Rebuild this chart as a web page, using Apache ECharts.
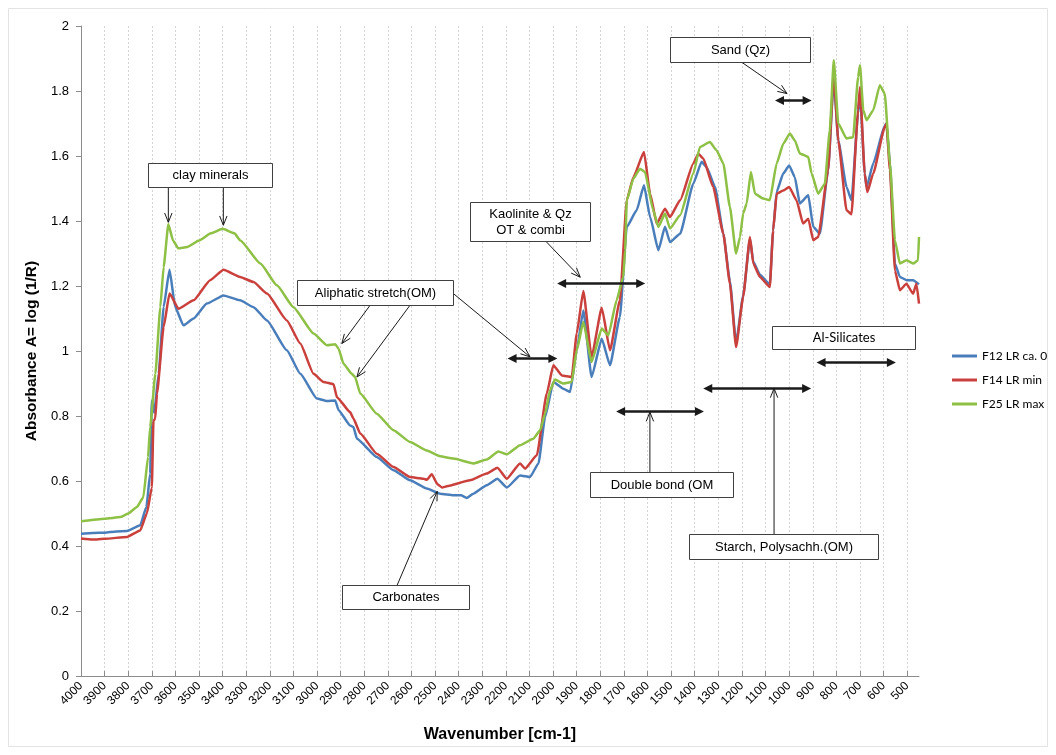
<!DOCTYPE html>
<html>
<head>
<meta charset="utf-8">
<title>FTIR absorbance spectra</title>
<script src="https://cdn.jsdelivr.net/npm/echarts@6/dist/echarts.min.js"></script>
<style>
  html, body { margin: 0; padding: 0; background: #ffffff; }
  #chart { width: 1056px; height: 755px; }
</style>
</head>
<body>
<div id="chart"></div>
<script>
// Wavenumber ticks [cm-1]
const wavenumberTicks = [4000, 3900, 3800, 3700, 3600, 3500, 3400, 3300, 3200, 3100, 3000,
  2900, 2800, 2700, 2600, 2500, 2400, 2300, 2200, 2100, 2000, 1900, 1800, 1700, 1600,
  1500, 1400, 1300, 1200, 1100, 1000, 900, 800, 700, 600, 500];

const seriesNames = ['F12 LR ca. 0', 'F14 LR min', 'F25 LR max'];

// [wavenumber, absorbance A = log(1/R)]
const f12Spectrum = [
  [4000, 0.438], [3950, 0.44], [3900, 0.441], [3850, 0.445], [3805, 0.446], [3749, 0.464],
  [3723, 0.52], [3707, 0.623], [3700, 0.848], [3690, 0.81], [3671, 0.93], [3650, 1.135],
  [3625, 1.25], [3601, 1.135], [3566, 1.079], [3523, 1.10], [3467, 1.146], [3396, 1.171],
  [3326, 1.156], [3269, 1.135], [3212, 1.094], [3128, 1.002], [3071, 0.93], [3001, 0.854],
  [2958, 0.846], [2923, 0.848], [2909, 0.818], [2860, 0.771], [2846, 0.766], [2831, 0.73],
  [2747, 0.674], [2676, 0.633], [2606, 0.602], [2535, 0.577], [2479, 0.561], [2422, 0.556],
  [2390, 0.556], [2366, 0.548], [2340, 0.56], [2281, 0.587], [2236, 0.607], [2196, 0.58],
  [2140, 0.617], [2098, 0.612], [2062, 0.654], [2034, 0.797], [1999, 0.905], [1957, 0.884],
  [1928, 0.874], [1900, 1.002], [1872, 1.125], [1837, 0.92], [1794, 1.038], [1759, 0.956],
  [1717, 1.105], [1688, 1.382], [1646, 1.433], [1615, 1.51], [1589, 1.412], [1554, 1.31],
  [1526, 1.382], [1505, 1.335], [1462, 1.361], [1406, 1.515], [1371, 1.582], [1350, 1.566],
  [1314, 1.505], [1279, 1.361], [1251, 1.215], [1225, 1.025], [1195, 1.17], [1166, 1.345],
  [1152, 1.275], [1124, 1.235], [1082, 1.205], [1068, 1.37], [1053, 1.49], [1025, 1.546],
  [1000, 1.571], [976, 1.535], [955, 1.454], [919, 1.479], [898, 1.382], [870, 1.361],
  [835, 1.556], [811, 1.835], [792, 1.648], [757, 1.505], [736, 1.464], [708, 1.731],
  [700, 1.792], [680, 1.546], [672, 1.505], [644, 1.577], [595, 1.694], [588, 1.70],
  [573, 1.577], [552, 1.269], [531, 1.228], [503, 1.218], [475, 1.218], [450, 1.205]
];

const f14Spectrum = [
  [4000, 0.423], [3950, 0.42], [3900, 0.422], [3805, 0.428], [3749, 0.448], [3721, 0.50],
  [3700, 0.58], [3693, 0.787], [3686, 0.79], [3678, 0.869], [3650, 1.074], [3625, 1.177],
  [3587, 1.13], [3523, 1.156], [3453, 1.218], [3396, 1.25], [3326, 1.228], [3269, 1.212],
  [3212, 1.177], [3128, 1.094], [3071, 1.023], [3015, 0.93], [2973, 0.905], [2930, 0.898],
  [2916, 0.858], [2860, 0.812], [2846, 0.792], [2817, 0.746], [2747, 0.684], [2676, 0.643],
  [2606, 0.612], [2549, 0.607], [2535, 0.604], [2514, 0.621], [2490, 0.59], [2470, 0.58],
  [2450, 0.584], [2352, 0.602], [2281, 0.623], [2236, 0.641], [2196, 0.607], [2140, 0.654],
  [2119, 0.638], [2069, 0.679], [2027, 0.869], [1999, 0.956], [1963, 0.925], [1921, 0.92],
  [1900, 1.054], [1872, 1.185], [1837, 0.982], [1794, 1.133], [1759, 1.002], [1717, 1.156],
  [1688, 1.464], [1660, 1.535], [1615, 1.612], [1589, 1.484], [1561, 1.392], [1526, 1.438],
  [1505, 1.412], [1462, 1.464], [1406, 1.577], [1385, 1.607], [1364, 1.592], [1322, 1.505],
  [1279, 1.361], [1251, 1.207], [1225, 1.012], [1195, 1.166], [1166, 1.351], [1152, 1.269],
  [1124, 1.228], [1082, 1.197], [1068, 1.371], [1053, 1.484], [1025, 1.494], [1000, 1.505],
  [969, 1.464], [941, 1.392], [919, 1.407], [898, 1.341], [877, 1.351], [835, 1.556],
  [811, 1.853], [792, 1.648], [757, 1.433], [736, 1.421], [708, 1.741], [700, 1.812],
  [680, 1.546], [669, 1.489], [644, 1.546], [595, 1.689], [588, 1.70], [573, 1.556],
  [552, 1.248], [531, 1.187], [503, 1.207], [475, 1.176], [461, 1.207], [450, 1.146]
];

const f25Spectrum = [
  [4000, 0.476], [3900, 0.484], [3833, 0.489], [3800, 0.50], [3763, 0.52], [3736, 0.55],
  [3716, 0.674], [3707, 0.766], [3685, 0.93], [3664, 1.135], [3650, 1.258], [3630, 1.39],
  [3610, 1.34], [3588, 1.316], [3550, 1.32], [3500, 1.34], [3450, 1.362], [3400, 1.376],
  [3350, 1.362], [3325, 1.34], [3240, 1.269], [3170, 1.202], [3100, 1.135], [3015, 1.054],
  [2958, 1.018], [2923, 1.021], [2909, 1.007], [2888, 0.961], [2853, 0.93], [2839, 0.92],
  [2817, 0.869], [2747, 0.807], [2676, 0.756], [2606, 0.72], [2535, 0.694], [2479, 0.676],
  [2422, 0.669], [2338, 0.654], [2281, 0.666], [2232, 0.691], [2196, 0.682], [2140, 0.71],
  [2084, 0.73], [2055, 0.756], [2034, 0.807], [2013, 0.879], [1992, 0.912], [1957, 0.90],
  [1921, 0.905], [1900, 1.002], [1872, 1.089], [1837, 0.966], [1794, 1.069], [1766, 1.048],
  [1731, 1.156], [1703, 1.228], [1695, 1.31], [1688, 1.464], [1660, 1.53], [1632, 1.561],
  [1611, 1.551], [1576, 1.433], [1554, 1.382], [1526, 1.423], [1505, 1.377], [1462, 1.418],
  [1406, 1.546], [1378, 1.628], [1336, 1.643], [1308, 1.618], [1279, 1.577], [1251, 1.443],
  [1225, 1.30], [1208, 1.351], [1195, 1.423], [1180, 1.454], [1162, 1.551], [1145, 1.484],
  [1110, 1.469], [1082, 1.464], [1053, 1.577], [1025, 1.638], [997, 1.669], [976, 1.648],
  [955, 1.608], [919, 1.597], [905, 1.546], [877, 1.484], [849, 1.515], [828, 1.679],
  [811, 1.895], [792, 1.70], [757, 1.654], [729, 1.658], [708, 1.843], [700, 1.879],
  [686, 1.741], [672, 1.71], [644, 1.741], [616, 1.818], [595, 1.792], [573, 1.577],
  [552, 1.341], [531, 1.269], [503, 1.279], [475, 1.269], [454, 1.279], [450, 1.351]
];

const seriesColors = ['#4a7ebb', '#c9403c', '#8dc044'];

// Band assignments: labelled boxes, thin pointers and range arrows (data coordinates)
const noteBoxes = [
  { text: 'clay minerals', at: [3452, 1.543], size: [124, 24] },
  { text: 'Sand (Qz)', at: [1208, 1.927], size: [140, 25] },
  { text: 'Kaolinite & Qz\nOT & combi', at: [2097, 1.40], size: [120, 39] },
  { text: 'Aliphatic stretch(OM)', at: [2754, 1.179], size: [156, 25] },
  { text: 'Double bond (OM', at: [1541, 0.588], size: [143, 25] },
  { text: 'Starch, Polysachh.(OM)', at: [1024, 0.398], size: [189, 25] },
  { text: 'Al-Silicates', at: [771, 1.043], size: [143, 23], font: 'Lato' },
  { text: 'Carbonates', at: [2625, 0.242], size: [127, 24] }
];

const notePointers = [
  [[3630, 1.507], [3630, 1.396]],
  [[3397, 1.507], [3397, 1.387]],
  [[1200, 1.888], [1009, 1.792]],
  [[2034, 1.34], [1885, 1.227]],
  [[2775, 1.141], [2895, 1.023]],
  [[2606, 1.141], [2831, 0.92]],
  [[2423, 1.177], [2098, 0.982]],
  [[1590, 0.627], [1590, 0.812]],
  [[1064, 0.436], [1064, 0.885]],
  [[2661, 0.279], [2491, 0.568]]
];

const noteRanges = [
  { from: 1060, to: 905, level: 1.771 },
  { from: 1983, to: 1610, level: 1.208 },
  { from: 2193, to: 1982, level: 0.98 },
  { from: 1733, to: 1361, level: 0.815 },
  { from: 1364, to: 907, level: 0.885 },
  { from: 884, to: 548, level: 0.966 }
];

const chart = echarts.init(document.getElementById('chart'), null, { renderer: 'canvas' });

const baseFont = '"Liberation Sans", Arial, sans-serif';

const option = {
  backgroundColor: '#ffffff',
  animation: false,
  grid: { left: 81, right: 137, top: 26, bottom: 79, containLabel: false, outerBoundsMode: 'none' },
  legend: {
    orient: 'vertical',
    left: 952,
    top: 348,
    padding: 0,
    itemGap: 8,
    itemWidth: 25,
    itemHeight: 3,
    icon: 'rect',
    data: seriesNames,
    textStyle: { fontFamily: 'Lato, sans-serif', fontSize: 12, color: '#000', lineHeight: 16, padding: [0, 0, 0, 0] }
  },
  xAxis: {
    type: 'value',
    inverse: true,
    min: 450,
    max: 4000,
    name: 'Wavenumber [cm-1]',
    nameLocation: 'middle',
    nameGap: 51,
    nameTextStyle: { fontFamily: baseFont, fontSize: 16, fontWeight: 'bold', color: '#000' },
    axisLine: { show: true, onZero: false, lineStyle: { color: '#8c8c8c', width: 1 } },
    axisTick: { show: true, inside: true, length: 5, lineStyle: { color: '#8c8c8c' }, customValues: wavenumberTicks },
    axisLabel: {
      customValues: wavenumberTicks,
      formatter: v => String(v),
      rotate: 45,
      margin: 8,
      fontFamily: baseFont,
      fontSize: 12,
      color: '#000'
    },
    splitLine: { show: true, lineStyle: { color: '#d4d4d4', width: 1, type: [2, 2] } }
  },
  yAxis: {
    type: 'value',
    min: 0,
    max: 2,
    interval: 0.2,
    name: 'Absorbance A= log (1/R)',
    nameLocation: 'middle',
    nameGap: 36,
    nameTextStyle: { fontFamily: baseFont, fontSize: 15.5, fontWeight: 'bold', color: '#000' },
    axisLine: { show: true, lineStyle: { color: '#8c8c8c', width: 1 } },
    axisTick: { show: true, length: 5, lineStyle: { color: '#8c8c8c' } },
    axisLabel: { margin: 12, fontFamily: baseFont, fontSize: 13, color: '#000' },
    splitLine: { show: false }
  },
  series: [f12Spectrum, f14Spectrum, f25Spectrum].map((data, i) => ({
    name: seriesNames[i],
    type: 'line',
    data: data,
    showSymbol: false,
    smooth: 0.15,
    smoothMonotone: 'x',
    color: seriesColors[i],
    lineStyle: { width: 2.5, color: seriesColors[i] }
  }))
};

chart.setOption(option);

// Annotation overlay, placed from data coordinates through the chart's own axes
function toPx(p) {
  return chart.convertToPixel({ seriesIndex: 0 }, p);
}

function buildNotes() {
  const els = [];
  const ink = '#1a1a1a';

  // outer chart frame
  els.push({
    type: 'rect', silent: true, z: 0,
    shape: { x: 8.5, y: 8.5, width: 1039, height: 738 },
    style: { fill: null, stroke: '#e3e3e3', lineWidth: 1 }
  });

  // range arrows: thick shaft with filled heads at both ends
  noteRanges.forEach(r => {
    const a = toPx([r.from, r.level]);
    const b = toPx([r.to, r.level]);
    const y = Math.round(a[1]) + 0.5;
    const x1 = Math.min(a[0], b[0]), x2 = Math.max(a[0], b[0]);
    const head = 9, half = 4.5;
    els.push({ type: 'line', z: 20, shape: { x1: x1 + head - 1, y1: y, x2: x2 - head + 1, y2: y }, style: { stroke: ink, lineWidth: 2.5 } });
    els.push({ type: 'polygon', z: 20, shape: { points: [[x1, y], [x1 + head, y - half], [x1 + head, y + half]] }, style: { fill: ink } });
    els.push({ type: 'polygon', z: 20, shape: { points: [[x2, y], [x2 - head, y - half], [x2 - head, y + half]] }, style: { fill: ink } });
  });

  // thin pointers with open arrow heads
  notePointers.forEach(pair => {
    const s = toPx(pair[0]);
    const e = toPx(pair[1]);
    const ang = Math.atan2(e[1] - s[1], e[0] - s[0]);
    const len = 10, spread = 0.38;
    const h1 = [e[0] - len * Math.cos(ang - spread), e[1] - len * Math.sin(ang - spread)];
    const h2 = [e[0] - len * Math.cos(ang + spread), e[1] - len * Math.sin(ang + spread)];
    els.push({ type: 'line', z: 20, shape: { x1: s[0], y1: s[1], x2: e[0], y2: e[1] }, style: { stroke: ink, lineWidth: 1 } });
    els.push({ type: 'polyline', z: 20, shape: { points: [h1, e, h2] }, style: { stroke: ink, lineWidth: 1, fill: null } });
  });

  // labelled boxes
  noteBoxes.forEach(b => {
    const c = toPx(b.at);
    const w = b.size[0], h = b.size[1];
    const x = Math.round(c[0] - w / 2) + 0.5, y = Math.round(c[1] - h / 2) + 0.5;
    els.push({
      type: 'rect', z: 30,
      shape: { x: x, y: y, width: w, height: h },
      style: { fill: '#ffffff', stroke: '#404040', lineWidth: 1 }
    });
    els.push({
      type: 'text', z: 31,
      style: {
        text: b.text,
        x: x + w / 2, y: y + h / 2,
        align: 'center', verticalAlign: 'middle',
        fontFamily: b.font ? b.font + ', sans-serif' : baseFont,
        fontSize: 13, lineHeight: 16,
        fill: '#000'
      }
    });
  });

  return els;
}

chart.setOption({ graphic: { elements: buildNotes() } });
</script>
</body>
</html>
